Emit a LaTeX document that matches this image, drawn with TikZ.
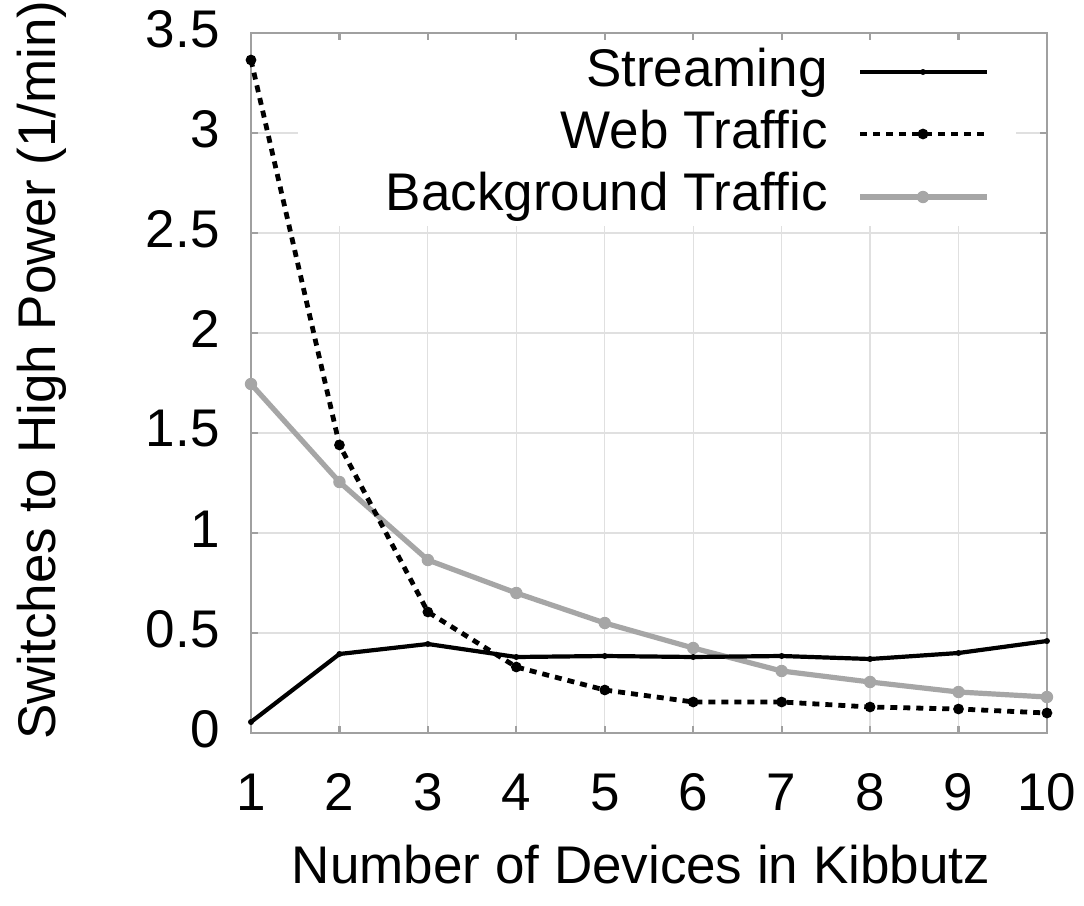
\documentclass[tikz,border=0pt]{standalone}
\usepackage{fontspec}
\setmainfont{Liberation Sans}
\definecolor{gridc}{HTML}{E0E0E0}
\definecolor{borderc}{HTML}{A0A0A0}
\definecolor{bgc}{HTML}{A6A6A6}
\tikzset{
  lbl/.style={font=\fontsize{26.5}{31}\selectfont, inner sep=0pt},
  gridline/.style={draw=gridc, line width=0.6pt},
  frame/.style={draw=borderc, line width=1.1pt},
  streamline/.style={draw=black, line width=2.1pt, line join=round},
  webline/.style={draw=black, line width=2.4pt, dash pattern=on 3.5pt off 3pt, line join=round},
  bgline/.style={draw=bgc, line width=2.6pt, line join=round},
  streammark/.style={circle, fill=black, inner sep=0pt, minimum size=3pt},
  webmark/.style={circle, fill=black, inner sep=0pt, minimum size=5.4pt},
  bgmark/.style={circle, fill=bgc, inner sep=0pt, minimum size=6.2pt},
}
\begin{document}
\begin{tikzpicture}[x=0.5pt,y=-0.5pt]
\useasboundingbox (0,0) rectangle (1084,906);
\fill[white] (0,0) rectangle (1084,906);
\begin{scope}[shift={(162.56,733)}, x=44.22pt, y=100pt]
  % grid
  \foreach \n in {2,...,9} \draw[gridline] (\n,0) -- (\n,3.5);
  \foreach \v in {0.5,1,...,3} \draw[gridline] (1,\v) -- (10,\v);
\end{scope}
% opaque key area
\fill[white] (298,40) rectangle (1016,226);
\begin{scope}[shift={(162.56,733)}, x=44.22pt, y=100pt]
  % border and ticks
  \draw[frame] (1,0) rectangle (10,3.5);
  \foreach \n in {1,...,10} {
    \draw[frame] (\n,0) -- ++(0,3.5pt);
    \draw[frame] (\n,3.5) -- ++(0,-3.5pt);
    \node[lbl, anchor=base] (xl\n) at ([yshift=-38.5pt]\n,0) {\n};
  }
  \foreach \v in {0,0.5,1,1.5,2,2.5,3,3.5} {
    \draw[frame] (1,\v) -- ++(3.5pt,0);
    \draw[frame] (10,\v) -- ++(-3.5pt,0);
  }
  % series
  \draw[bgline] plot coordinates {(1,1.745) (2,1.255) (3,0.865) (4,0.70) (5,0.55) (6,0.425) (7,0.31) (8,0.255) (9,0.205) (10,0.18)};
  \foreach \n/\v in {1/1.745,2/1.255,3/0.865,4/0.70,5/0.55,6/0.425,7/0.31,8/0.255,9/0.205,10/0.18}
    \node[bgmark] (bg\n) at (\n,\v) {};
  \draw[webline] plot coordinates {(1,3.365) (2,1.44) (3,0.605) (4,0.33) (5,0.215) (6,0.155) (7,0.155) (8,0.13) (9,0.12) (10,0.10)};
  \foreach \n/\v in {1/3.365,2/1.44,3/0.605,4/0.33,5/0.215,6/0.155,7/0.155,8/0.13,9/0.12,10/0.10}
    \node[webmark] (web\n) at (\n,\v) {};
  \draw[streamline] plot coordinates {(1,0.055) (2,0.395) (3,0.445) (4,0.38) (5,0.385) (6,0.38) (7,0.385) (8,0.37) (9,0.40) (10,0.46)};
  \foreach \n/\v in {1/0.055,2/0.395,3/0.445,4/0.38,5/0.385,6/0.38,7/0.385,8/0.37,9/0.40,10/0.46}
    \node[streammark] (st\n) at (\n,\v) {};
\end{scope}
% y tick labels
\foreach \t/\py [count=\i] in {0/733,0.5/633,1/533,1.5/433,2/333,2.5/233,3/133,3.5/33}
  \node[lbl, anchor=east] (yl\i) at (220,\py-4) {\t};
% axis labels
\node[lbl, anchor=base] (xlabel) at (641,883) {Number of Devices in Kibbutz};
\node[lbl, anchor=base, rotate=90] (ylabel) at (55,370) {Switches to High Power (1/min)};
% legend
\node[lbl, anchor=base east] (k1) at (828,86) {Streaming};
\node[lbl, anchor=base east] (k2) at (828,148) {Web Traffic};
\node[lbl, anchor=base east] (k3) at (828,210) {Background Traffic};
\coordinate (s1a) at (860,72); \coordinate (s1b) at (987,72);
\coordinate (s2a) at (860,134); \coordinate (s2b) at (987,134);
\coordinate (s3a) at (860,197); \coordinate (s3b) at (987,197);
\draw[streamline] (s1a) -- (s1b);
\node[streammark] (m1) at (923,72) {};
\draw[webline] (s2a) -- (s2b);
\node[webmark] (m2) at (923,134) {};
\draw[bgline] (s3a) -- (s3b);
\node[bgmark] (m3) at (923,197) {};
\end{tikzpicture}
\end{document}
